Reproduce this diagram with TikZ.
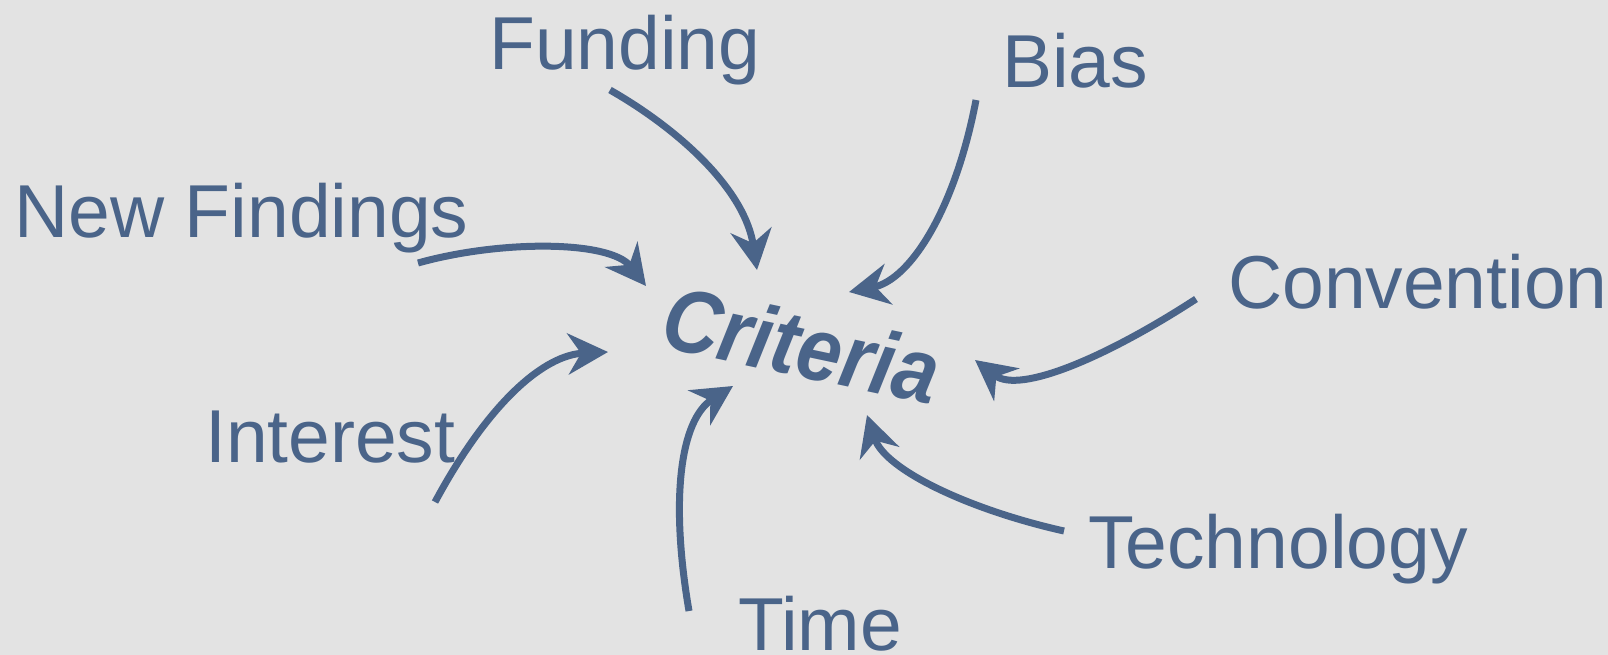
\documentclass[tikz,border=0pt]{standalone}
\usepackage{fontspec}
\setmainfont{Liberation Sans}
\usepackage{tikz}
\usetikzlibrary{arrows.meta}
\definecolor{slate}{HTML}{4A6489}
\definecolor{paper}{HTML}{E3E3E3}
\tikzset{
  factor/.style={text=slate,inner sep=0pt,font=\fontsize{75}{80}\selectfont},
  infl/.style={draw=slate,line width=7pt,-{Stealth[length=40pt,width=41pt,inset=13pt]}}
}
\begin{document}
\begin{tikzpicture}[x=1pt,y=-1pt]
\fill[paper] (0,0) rectangle (1608,655);
\useasboundingbox (0,0) rectangle (1608,655);
\node[factor,anchor=base west] (funding) at (489,70) {Funding};
\node[factor,anchor=base west] (bias) at (1002,88) {Bias};
\node[factor,anchor=base west] (findings) at (14,237) {New Findings};
\node[factor,anchor=base west] (convention) at (1228,308) {Convention};
\node[factor,anchor=base west] (interest) at (205,462) {Interest};
\node[factor,anchor=base west] (technology) at (1088,568) {Technology};
\node[factor,anchor=base west] (time) at (738,650) {Time};
\node[text=slate,inner sep=0pt,anchor=base,rotate=-12] (crit) at (795,376) {\scalebox{1}[1.12]{\fontsize{80}{84}\selectfont\bfseries\itshape Criteria}};
\coordinate (fundingS) at (610,90);    \coordinate (fundingT) at (757,270);
\coordinate (biasS) at (976,100);      \coordinate (biasT) at (849,292);
\coordinate (findingsS) at (418,263);  \coordinate (findingsT) at (646,286);
\coordinate (conventionS) at (1196,299); \coordinate (conventionT) at (975,360);
\coordinate (interestS) at (435,502);  \coordinate (interestT) at (608,352);
\coordinate (timeS) at (689,611);      \coordinate (timeT) at (733,386);
\coordinate (technologyS) at (1064,531); \coordinate (technologyT) at (867,415);
\draw[infl] (fundingS) .. controls (680,130) and (745,190) .. (fundingT);
\draw[infl] (biasS) .. controls (955,210) and (910,280) .. (biasT);
\draw[infl] (findingsS) .. controls (500,240) and (610,240) .. (findingsT);
\draw[infl] (conventionS) .. controls (1110,355) and (1020,395) .. (conventionT);
\draw[infl] (interestS) .. controls (490,400) and (545,355) .. (interestT);
\draw[infl] (timeS) .. controls (670,500) and (680,420) .. (timeT);
\draw[infl] (technologyS) .. controls (970,510) and (885,470) .. (technologyT);
\end{tikzpicture}
\end{document}
